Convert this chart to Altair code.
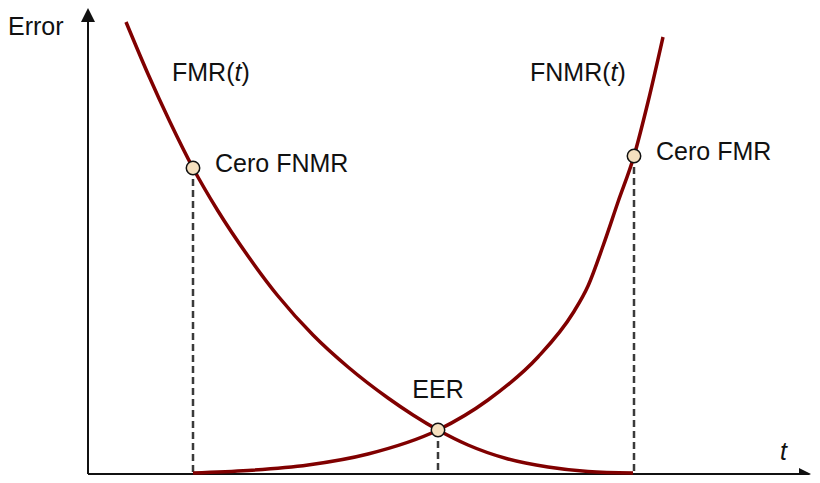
import altair as alt
import pandas as pd

# Curves (t and error in plot units, origin at the axes' corner)
fmr_t = [38, 60, 82, 105, 130, 160, 190, 225, 260, 300, 325, 350, 380, 420, 460, 500, 545]
fmr_err = [452, 400, 352, 306, 263, 218, 178, 139, 107, 76, 59, 44, 29, 15, 7, 2.5, 1]

fnmr_t = [105, 160, 220, 280, 350, 400, 450, 485, 500, 515, 530, 546, 560, 575]
fnmr_err = [1, 3.5, 9, 20, 44, 74, 117, 161, 188, 228, 272, 318, 372, 437]

# Marked operating points
point_names = ["Cero FNMR", "EER", "Cero FMR"]
point_t = [105, 350, 546]
point_err = [306, 44, 318]

# Text annotations (anchor in plot units)
note_text = ["Error", "FMR(", ")", "FNMR(", ")"]
note_t = [-80, 84, 84, 442, 442]
note_err = [447, 401, 401, 401, 401]
note_dx = [0, 0, 69.5, 0, 87.5]
italic_text = ["t", "t", "t"]
italic_t = [84, 442, 692]
italic_err = [401, 401, 22]
italic_dx = [62.5, 80.5, 0]

RED = "#800000"
FONT = "Liberation Sans"
FS = 25

xs = alt.Scale(domain=[-80, 724], nice=False, zero=False)
ys = alt.Scale(domain=[-1, 466], nice=False, zero=False)

curves = pd.DataFrame(
    {"t": fmr_t + fnmr_t,
     "err": fmr_err + fnmr_err,
     "series": ["FMR"] * len(fmr_t) + ["FNMR"] * len(fnmr_t)}
)
points = pd.DataFrame({"name": point_names, "t": point_t, "err": point_err, "base": [0, 0, 0]})
notes = pd.DataFrame({"text": note_text, "t": note_t, "err": note_err, "dx": note_dx})
italics = pd.DataFrame({"text": italic_text, "t": italic_t, "err": italic_err, "dx": italic_dx})
axes_df = pd.DataFrame({"t": [0, 0], "err": [0, 0], "t2": [712, 0], "err2": [0, 452]})
arrows = pd.DataFrame({"t": [717, 0], "err": [0, 459], "dir": ["x", "y"]})

X = lambda f="t": alt.X(f"{f}:Q", scale=xs, axis=None)
Y = lambda f="err": alt.Y(f"{f}:Q", scale=ys, axis=None)

axis_lines = alt.Chart(axes_df).mark_rule(color="#111111", strokeWidth=2).encode(
    x=X(), x2="t2:Q", y=Y(), y2="err2:Q"
)

arrow_x = alt.Chart(arrows[arrows["dir"] == "x"]).mark_point(
    shape="M1,0L-1,-1L-1,1Z", size=144, filled=True, color="#111111", opacity=1
).encode(x=X(), y=Y())
arrow_y = alt.Chart(arrows[arrows["dir"] == "y"]).mark_point(
    shape="M0,-1L1,1L-1,1Z", size=196, filled=True, color="#111111", opacity=1
).encode(x=X(), y=Y())

dashes = alt.Chart(points).mark_rule(
    color="#3a3a3a", strokeWidth=2.5, strokeDash=[7, 4]
).encode(x=X(), y=Y(), y2="base:Q")

lines = alt.Chart(curves).mark_line(
    color=RED, strokeWidth=3.5, interpolate="monotone"
).encode(x=X(), y=Y(), detail="series:N", order="t:Q")

dots = alt.Chart(points).mark_point(
    shape="circle", size=180, filled=True, fill="#f5e0bf", stroke="#111111",
    strokeWidth=1.5, opacity=1
).encode(x=X(), y=Y())

side_labels = alt.Chart(points[points["name"] != "EER"]).mark_text(
    align="left", baseline="middle", dx=22, dy=-4, font=FONT, fontSize=FS, color="#111111"
).encode(x=X(), y=Y(), text="name:N")

eer_label = alt.Chart(points[points["name"] == "EER"]).mark_text(
    align="center", baseline="middle", dy=-40, font=FONT, fontSize=FS, color="#111111"
).encode(x=X(), y=Y(), text="name:N")

note_layers = []
for _, r in notes.iterrows():
    note_layers.append(
        alt.Chart(pd.DataFrame([r])).mark_text(
            align="left", baseline="middle", dx=float(r["dx"]), font=FONT, fontSize=FS, color="#111111"
        ).encode(x=X(), y=Y(), text="text:N")
    )
for _, r in italics.iterrows():
    note_layers.append(
        alt.Chart(pd.DataFrame([r])).mark_text(
            align="left", baseline="middle", dx=float(r["dx"]), font=FONT, fontSize=FS,
            fontStyle="italic", color="#111111"
        ).encode(x=X(), y=Y(), text="text:N")
    )

chart = alt.layer(
    axis_lines, arrow_x, arrow_y, dashes, lines, dots, side_labels, eer_label, *note_layers
).properties(
    width=804, height=467, padding=0, background="white",
    autosize=alt.AutoSizeParams(type="none")
).configure_view(stroke=None, strokeWidth=0)

chart.save("out.html", embed_options={"renderer": "svg", "actions": False})
